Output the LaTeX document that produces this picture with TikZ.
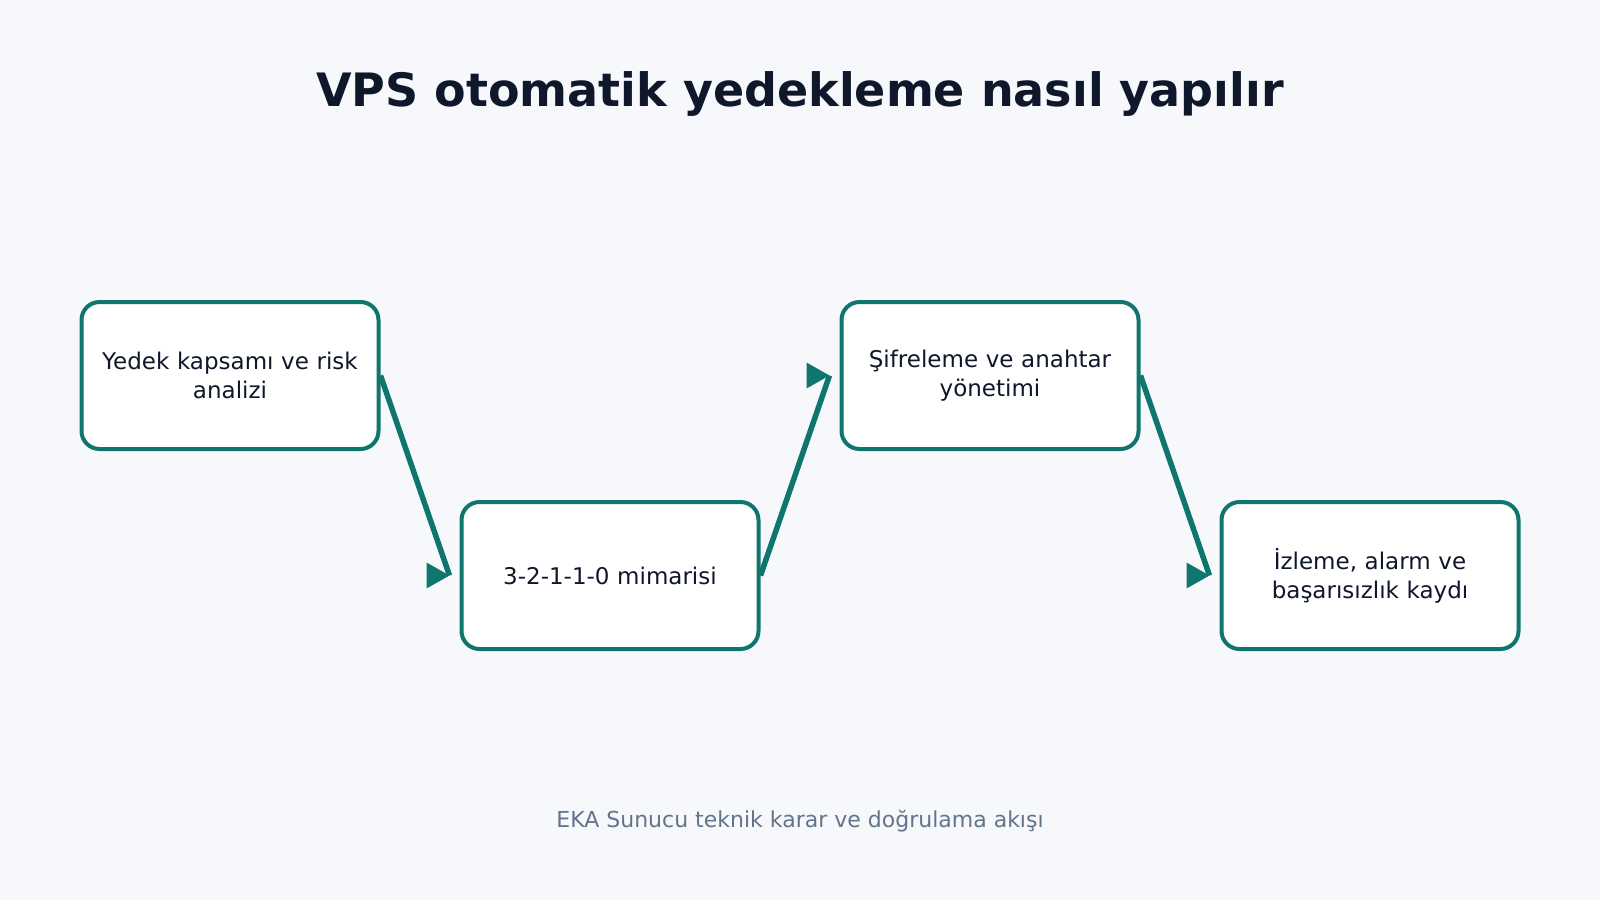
\documentclass[tikz,border=0pt]{standalone}
\usepackage{fontspec}
\setmainfont{DejaVu Sans}
\usetikzlibrary{positioning}
\usetikzlibrary{calc}

\definecolor{pagebg}{HTML}{F6F8FB}
\definecolor{stepline}{HTML}{0F766E}
\definecolor{inktext}{HTML}{0F172A}
\definecolor{mutetext}{HTML}{64748B}

\newcommand{\headat}[1]{\fill[stepline] (#1) -- ++(-23,-13) -- ++(0,26) -- cycle;}

\begin{document}
\begin{tikzpicture}[x=1pt,y=-1pt]
 \tikzstyle{stepbox} = [draw=stepline, fill=white, line width=4pt, rounded corners=18pt,
   minimum width=297pt, minimum height=147pt, text width=275pt, align=center,
   text=inktext, font=\fontsize{23}{29}\selectfont, node distance=49pt and 79pt];
 \tikzstyle{flow} = [draw=stepline, line width=5.5pt];

 \fill[pagebg] (0,0) rectangle (1600,900);
 \useasboundingbox (0,0) rectangle (1600,900);

 \node (title) at (800,94) [text=inktext, font=\fontsize{46}{54}\selectfont\bfseries] {VPS otomatik yedekleme nasıl yapılır};

 \node (scope) at (230,375.5) [stepbox] {Yedek kapsamı ve risk\\analizi};
 \node (arch) [stepbox, below right=of scope] {3-2-1-1-0 mimarisi};
 \node (crypt) [stepbox, above right=of arch] {Şifreleme ve anahtar\\yönetimi};
 \node (watch) [stepbox, below right=of crypt] {İzleme, alarm ve\\başarısızlık kaydı};

 \node (footer) at (800,821) [text=mutetext, font=\fontsize{22}{26}\selectfont] {EKA Sunucu teknik karar ve doğrulama akışı};

 \coordinate (tipA) at ($(arch.west)+(-10,0)$);
 \coordinate (tipB) at ($(crypt.west)+(-10,0)$);
 \coordinate (tipC) at ($(watch.west)+(-10,0)$);

 \draw [flow] (scope.east) -- (tipA);
 \draw [flow] (arch.east) -- (tipB);
 \draw [flow] (crypt.east) -- (tipC);
 \headat{tipA}
 \headat{tipB}
 \headat{tipC}

\end{tikzpicture}
\end{document}
